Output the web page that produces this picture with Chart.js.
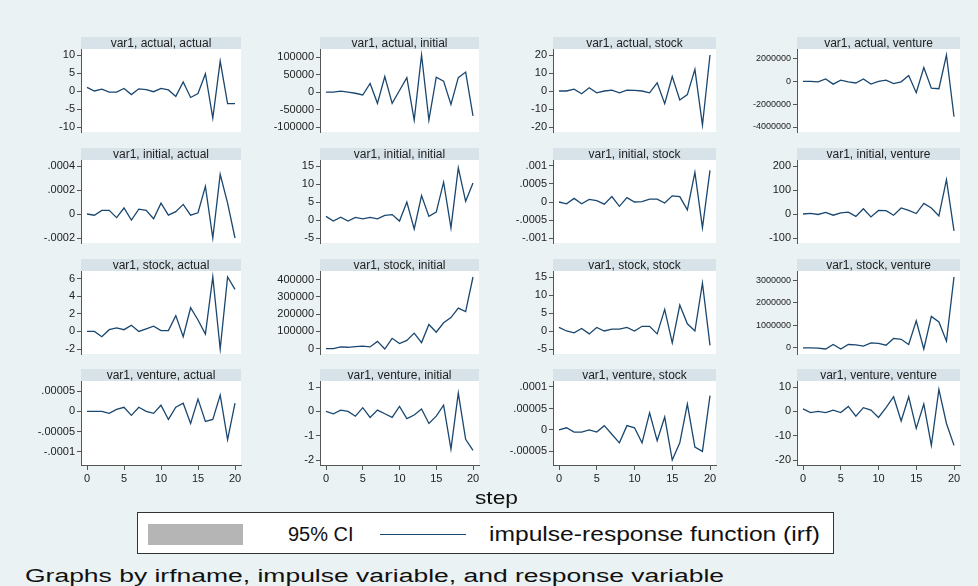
<!DOCTYPE html>
<html>
<head>
<meta charset="utf-8">
<script src="https://cdn.jsdelivr.net/npm/chart.js@4.4.1/dist/chart.umd.min.js"></script>
<style>
  html, body { margin:0; padding:0; }
  body { width:978px; height:586px; background:#eaf2f3; position:relative; overflow:hidden;
         font-family:"Liberation Sans", Arial, sans-serif; color:#1e1e1e; }
  .band { position:absolute; background:#d8e3e9; font-size:12px; line-height:12px; text-align:center; white-space:nowrap; color:#222; z-index:2; }
  canvas { position:absolute; z-index:1; }
  .txt { position:absolute; white-space:nowrap; z-index:3; line-height:1; color:#111; transform-origin:0 50%; }
</style>
</head>
<body>
<div style="position:absolute;left:137px;top:512px;width:695px;height:40px;background:#fff;border:1px solid #333;z-index:2;"></div>
<div style="position:absolute;left:148px;top:524px;width:95px;height:21px;background:#b5b5b5;z-index:3;"></div>
<div class="txt" style="left:288px;top:524px;font-size:20px;">95% CI</div>
<div style="position:absolute;left:380px;top:534px;width:86px;height:0;border-top:1.5px solid #1a476f;z-index:3;"></div>
<div class="txt" data-w="331" style="left:489px;top:524px;font-size:20px;">impulse-response function (irf)</div>
<div class="txt" data-w="43" style="left:475px;top:488px;font-size:19px;">step</div>
<div class="txt" data-w="699" style="left:25px;top:567px;font-size:18px;">Graphs by irfname, impulse variable, and response variable</div>
<script>
// ---------------- data ----------------
const steps = [0,1,2,3,4,5,6,7,8,9,10,11,12,13,14,15,16,17,18,19,20];
const xTickValues = [0,5,10,15,20];

const panelTitles = [
  'var1, actual, actual','var1, actual, initial','var1, actual, stock','var1, actual, venture',
  'var1, initial, actual','var1, initial, initial','var1, initial, stock','var1, initial, venture',
  'var1, stock, actual','var1, stock, initial','var1, stock, stock','var1, stock, venture',
  'var1, venture, actual','var1, venture, initial','var1, venture, stock','var1, venture, venture'
];

const irfActualActual   = [1,0,0.5,-0.3,-0.3,0.7,-1,0.6,0.4,-0.2,0.7,0.3,-1.5,2.5,-1.8,-0.7,4.8,-7.5,8.3,-3.5,-3.5];
const irfActualInitial  = [0,0,3000,0,-3000,-8000,25000,-32000,45000,-32000,5000,42000,-80000,107000,-80000,43000,32000,-35000,42000,58000,-68000];
const irfActualStock    = [0,0,1,-1.5,1.8,-1,0,0.5,-1,0.5,0.3,0,-1,4.5,-7,8,-5,-2,12,-19,20];
const irfActualVenture  = [0,0,-50000,200000,-250000,100000,-50000,-150000,200000,-250000,0,100000,-200000,-50000,500000,-1000000,1200000,-600000,-650000,2300000,-3100000];

const irfInitialActual  = [0,-0.00001,0.00003,0.00003,-0.00003,0.00005,-0.00005,0.00004,0.00003,-0.00004,0.00009,-0.00001,0.00002,0.00008,-0.00001,0.00001,0.00023,-0.0002,0.00033,0.00009,-0.0002];
const irfInitialInitial = [1,-0.3,0.8,-0.3,0.7,0.3,0.7,0.3,1.3,1.5,-0.3,5,-2.5,6.8,1,2.2,10.5,-2.2,14.5,5.2,10.3];
const irfInitialStock   = [0,-0.00005,0.0001,-0.00005,0.00007,0.00004,-0.00006,0.00015,-0.00012,0.00012,0,0.00001,0.00008,0.00008,-0.00003,0.00017,0.00015,-0.00022,0.00082,-0.00072,0.00088];
const irfInitialVenture = [0,3,-2,7,-5,5,8,-10,22,-12,15,14,-5,25,15,2,44,25,-8,143,-70];

const irfStockActual    = [0,0,-0.6,0.2,0.4,0.2,0.7,0,0.3,0.6,0.1,0.1,1.8,-0.6,2.7,1.3,-0.3,6.2,-2,6.2,4.8];
const irfStockInitial   = [0,0,10000,8000,12000,15000,10000,42000,-2000,60000,30000,48000,90000,35000,140000,95000,150000,180000,235000,215000,415000];
const irfStockStock     = [1,0,-0.5,0.7,-0.8,1,0,0.5,0.5,1,0,1.3,1.3,-0.8,6,-3.3,7.2,2,0,13.3,-4];
const irfStockVenture   = [0,0,-10000,-50000,150000,-50000,150000,130000,80000,220000,200000,120000,420000,380000,150000,1200000,-50000,1400000,1150000,300000,3150000];

const irfVentureActual  = [0,0,0,-0.000005,0.000005,0.00001,-0.00001,0.00001,0,-0.000005,0.000015,-0.00002,0.00001,0.00002,-0.00003,0.00003,-0.000025,-0.00002,0.00004,-0.00007,0.00002];
const irfVentureInitial = [0,-0.1,0.05,0,-0.2,0.15,-0.25,0.05,-0.1,-0.25,0.2,-0.3,-0.15,0.1,-0.5,-0.2,0.25,-1.55,0.75,-1.15,-1.6];
const irfVentureStock   = [0,0.000005,-0.000005,-0.000005,0,-0.000005,0.00001,-0.00001,-0.00003,0.00001,0.000005,-0.00003,0.00004,-0.000025,0.00003,-0.00007,-0.00003,0.00006,-0.00004,-0.00005,0.00008];
const irfVentureVenture = [1,-0.5,0,-0.5,0.5,-0.5,2,-2,1.5,0.5,-2.5,1.5,6,-4,6,-7,3,-14,9,-5,-14];

const yTicks = [
  [-10,-5,0,5,10], [-100000,-50000,0,50000,100000], [-20,-10,0,10,20], [-4000000,-2000000,0,2000000],
  [-0.0002,0,0.0002,0.0004], [-5,0,5,10,15], [-0.001,-0.0005,0,0.0005,0.001], [-100,0,100,200],
  [-2,0,2,4,6], [0,100000,200000,300000,400000], [-5,0,5,10,15], [0,1000000,2000000,3000000],
  [-0.0001,-0.00005,0,0.00005], [-2,-1,0,1], [-0.00005,0,0.00005,0.0001], [-20,-10,0,10]
];
const yTickLabels = [
  ['-10','-5','0','5','10'], ['-100000','-50000','0','50000','100000'], ['-20','-10','0','10','20'], ['-4000000','-2000000','0','2000000'],
  ['-.0002','0','.0002','.0004'], ['-5','0','5','10','15'], ['-.001','-.0005','0','.0005','.001'], ['-100','0','100','200'],
  ['-2','0','2','4','6'], ['0','100000','200000','300000','400000'], ['-5','0','5','10','15'], ['0','1000000','2000000','3000000'],
  ['-.0001','-.00005','0','.00005'], ['-2','-1','0','1'], ['-.00005','0','.00005','.0001'], ['-20','-10','0','10']
];
// axis range (before plot-region margin) where the picture shows it wider than data and ticks
const yRangeOverride = { 12: [-0.00012, 0.00006] };

const seriesList = [
  irfActualActual, irfActualInitial, irfActualStock, irfActualVenture,
  irfInitialActual, irfInitialInitial, irfInitialStock, irfInitialVenture,
  irfStockActual, irfStockInitial, irfStockStock, irfStockVenture,
  irfVentureActual, irfVentureInitial, irfVentureStock, irfVentureVenture
];

// ---------------- layout / style ----------------
const colLeft = [81, 320, 553, 797], colRight = [241, 479, 716, 960];
const rowTop = [49, 160, 271, 381], rowBottom = [132, 243, 354, 465];
const PAD_T = 6, PAD_B = 5, PAD_L = 6, PAD_R = 6;
const YAXIS_W = 80, EXTRA = 14, RIGHT_EXTRA = 12, XAXIS_H = 24, BAND_H = 12;
const FONT = '"Liberation Sans", Arial, sans-serif';
const LINE_COLOR = '#1a476f', AXIS_COLOR = '#555', TEXT_COLOR = '#222';
const tickFontSize = [11,11,11,9, 11,11,11,11, 11,11,11,9, 11,11,11,11];

document.querySelectorAll('.txt[data-w]').forEach(el => {
  const target = +el.dataset.w, w = el.getBoundingClientRect().width;
  if (w > 0) el.style.transform = 'scaleX(' + (target / w) + ')';
});

const whiteBg = {
  id: 'whiteBg',
  beforeDraw(chart) {
    const { ctx, chartArea: a } = chart;
    ctx.save();
    ctx.fillStyle = '#ffffff';
    ctx.fillRect(a.left, a.top, a.right - a.left, a.bottom - a.top);
    ctx.restore();
  }
};

for (let i = 0; i < 16; i++) {
  const r = Math.floor(i / 4), c = i % 4;
  const isBottom = r === 3;
  const vals = seriesList[i], tv = yTicks[i], tl = yTickLabels[i];
  const W = colRight[c] - colLeft[c], H = rowBottom[r] - rowTop[r];

  const band = document.createElement('div');
  band.className = 'band';
  band.style.left = colLeft[c] + 'px';
  band.style.top = (rowTop[r] - BAND_H) + 'px';
  band.style.width = W + 'px';
  band.style.height = BAND_H + 'px';
  band.textContent = panelTitles[i];
  document.body.appendChild(band);

  const cv = document.createElement('canvas');
  const cw = YAXIS_W + W + RIGHT_EXTRA;
  const ch = EXTRA + H + (isBottom ? XAXIS_H : EXTRA);
  cv.width = cw; cv.height = ch;
  cv.style.left = (colLeft[c] - YAXIS_W) + 'px';
  cv.style.top = (rowTop[r] - EXTRA) + 'px';
  cv.style.width = cw + 'px'; cv.style.height = ch + 'px';
  document.body.appendChild(cv);

  let lo = Math.min(...vals, tv[0]), hi = Math.max(...vals, tv[tv.length - 1]);
  if (yRangeOverride[i]) { lo = Math.min(lo, yRangeOverride[i][0]); hi = Math.max(hi, yRangeOverride[i][1]); }
  const innerH = H - PAD_T - PAD_B;
  const yMin = lo - (hi - lo) * PAD_B / innerH;
  const yMax = hi + (hi - lo) * PAD_T / innerH;
  const innerW = W - PAD_L - PAD_R;
  const span = steps[steps.length - 1] - steps[0];
  const xMin = steps[0] - span * PAD_L / innerW;
  const xMax = steps[steps.length - 1] + span * PAD_R / innerW;

  new Chart(cv, {
    type: 'line',
    data: {
      datasets: [{
        data: steps.map((s, k) => ({ x: s, y: vals[k] })),
        borderColor: LINE_COLOR,
        borderWidth: 1.3,
        pointRadius: 0,
        tension: 0,
        fill: false
      }]
    },
    options: {
      responsive: false,
      animation: false,
      devicePixelRatio: 1,
      layout: { padding: { top: EXTRA, bottom: isBottom ? 0 : EXTRA, left: 0, right: RIGHT_EXTRA } },
      plugins: { legend: { display: false }, tooltip: { enabled: false }, title: { display: false } },
      scales: {
        x: {
          type: 'linear',
          display: isBottom,
          min: xMin, max: xMax, bounds: 'data',
          afterBuildTicks: s => { s.ticks = xTickValues.map(v => ({ value: v })); },
          afterFit: s => { s.height = isBottom ? XAXIS_H : 0; },
          ticks: { font: { family: FONT, size: 11 }, color: TEXT_COLOR, maxRotation: 0, autoSkip: false, padding: 2,
                   callback: v => String(v) },
          grid: { drawOnChartArea: false, drawTicks: true, tickLength: 5, color: AXIS_COLOR, lineWidth: 1 },
          border: { display: true, color: AXIS_COLOR, width: 1 }
        },
        y: {
          type: 'linear',
          min: yMin, max: yMax, bounds: 'data',
          afterBuildTicks: s => { s.ticks = tv.map(v => ({ value: v })); },
          afterFit: s => { s.width = YAXIS_W; },
          ticks: { font: { family: FONT, size: tickFontSize[i] }, color: TEXT_COLOR, autoSkip: false, padding: 2,
                   callback: v => { const k = tv.indexOf(v); return k >= 0 ? tl[k] : ''; } },
          grid: { drawOnChartArea: false, drawTicks: true, tickLength: 4, color: AXIS_COLOR, lineWidth: 1 },
          border: { display: true, color: AXIS_COLOR, width: 1 }
        }
      }
    },
    plugins: [whiteBg]
  });
}
</script>
</body>
</html>
